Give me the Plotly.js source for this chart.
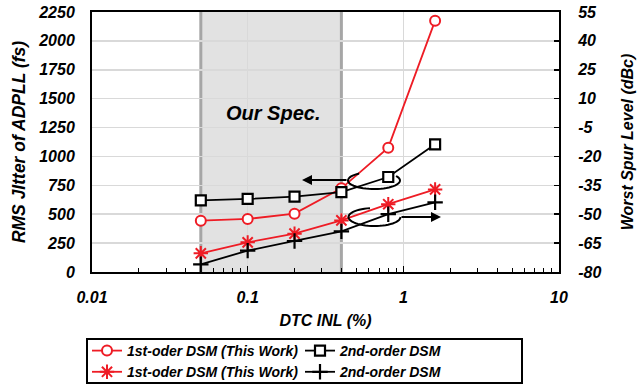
<!DOCTYPE html>
<html>
<head>
<meta charset="utf-8">
<script src="https://cdn.plot.ly/plotly-3.0.1.min.js"></script>
<style>html,body{margin:0;padding:0;background:#fff;}#chart{width:642px;height:388px;}</style>
</head>
<body>
<div id="chart"></div>
<script>
// ---- data ----
const dtcInl = [0.05, 0.1, 0.2, 0.4, 0.8, 1.6];
const jitterFirstOrder = [444, 459, 505, 724, 1076, 2175];     // fs, left axis
const jitterSecondOrder = [620, 632, 652, 692, 822, 1105];     // fs, left axis
const spurFirstOrder = [-70.3, -64.6, -60.1, -53.2, -44.8, -37.1];  // dBc, right axis
const spurSecondOrder = [-76.0, -68.9, -63.9, -58.9, -50.0, -43.8]; // dBc, right axis
const seriesNames = ['1st-oder DSM (This Work)', '2nd-order DSM', '1st-oder DSM (This Work)', '2nd-order DSM'];
const specRange = [0.05, 0.4];
const leftTicks = [0, 250, 500, 750, 1000, 1250, 1500, 1750, 2000, 2250];
const rightTicks = [-80, -65, -50, -35, -20, -5, 10, 25, 40, 55];
const rightTickText = ['-80', '-65', '-50', '-35', '-20', '-5', '10', '25', '40', '55'];
const xTicks = [0.01, 0.1, 1, 10];
const xTickText = ['0.01', '0.1', '1', '10'];

const RED = '#ee1c25';
const FONT = 'Liberation Sans, Arial, sans-serif';

// plot-area pixel geometry (for decorations only)
const PL = 92, PR = 559, PT = 12, PB = 272;
const px2x = p => (p - PL) / (PR - PL);
const py2y = p => (PB - p) / (PB - PT);
function arcPath(cx, cy, rx, ry, a0, a1) {
  let d = '';
  const n = 40;
  for (let i = 0; i <= n; i++) {
    const a = (a0 + (a1 - a0) * i / n) * Math.PI / 180;
    const x = px2x(cx + rx * Math.cos(a));
    const y = py2y(cy - ry * Math.sin(a));
    d += (i === 0 ? 'M' : 'L') + x.toFixed(4) + ',' + y.toFixed(4) + ' ';
  }
  return d;
}

const traces = [
  {x: dtcInl, y: jitterFirstOrder, name: seriesNames[0], yaxis: 'y', mode: 'lines+markers',
   line: {color: RED, width: 1.8},
   marker: {symbol: 'circle', size: 10, color: '#fff', line: {color: RED, width: 2}}},
  {x: dtcInl, y: jitterSecondOrder, name: seriesNames[1], yaxis: 'y', mode: 'lines+markers',
   line: {color: '#000', width: 1.8},
   marker: {symbol: 'square', size: 10, color: '#fff', line: {color: '#000', width: 2.2}}},
  {x: dtcInl, y: spurFirstOrder, name: seriesNames[2], yaxis: 'y2', mode: 'lines+markers',
   line: {color: RED, width: 1.8},
   marker: {symbol: 'asterisk-open', size: 12, color: RED, line: {color: RED, width: 2}}},
  {x: dtcInl, y: spurSecondOrder, name: seriesNames[3], yaxis: 'y2', mode: 'lines+markers',
   line: {color: '#000', width: 1.8},
   marker: {symbol: 'cross-thin-open', size: 11, color: '#000', line: {color: '#000', width: 2.2}}}
];

const tickFont = {family: FONT, size: 16, color: '#000', weight: 'bold', style: 'italic'};
const titleFont = {family: FONT, size: 17, color: '#000', weight: 'bold', style: 'italic'};

const layout = {
  width: 642, height: 388,
  margin: {l: PL, r: 642 - PR, t: PT, b: 388 - PB, autoexpand: false},
  paper_bgcolor: '#fff', plot_bgcolor: '#fff',
  showlegend: true,
  xaxis: {
    type: 'log', range: [Math.log10(xTicks[0]), Math.log10(xTicks[xTicks.length - 1])],
    tickvals: xTicks, ticktext: xTickText, tickfont: tickFont,
    ticks: 'inside', ticklen: 6, tickwidth: 1, tickcolor: '#000',
    minor: {ticks: 'inside', ticklen: 4, tickcolor: '#000', dtick: 'D1', showgrid: false},
    showgrid: true, gridcolor: '#d9d9d9', gridwidth: 1.5,
    showline: true, linecolor: '#000', linewidth: 2, mirror: true,
    zeroline: false, ticklabelstandoff: 10,
    title: {text: 'DTC INL (%)', font: {...titleFont, size: 16}, standoff: 10}
  },
  yaxis: {
    range: [leftTicks[0], leftTicks[leftTicks.length - 1]], tickvals: leftTicks, tickfont: tickFont,
    ticks: '', showgrid: true, gridcolor: '#d9d9d9', gridwidth: 1.5,
    showline: true, linecolor: '#000', linewidth: 2, zeroline: false,
    ticklabelstandoff: 12,
    title: {text: 'RMS JItter of ADPLL (fs)', font: {...titleFont, size: 17.5}, standoff: 8}
  },
  yaxis2: {
    overlaying: 'y', side: 'right',
    range: [rightTicks[0], rightTicks[rightTicks.length - 1]], tickvals: rightTicks, ticktext: rightTickText,
    tickfont: tickFont,
    ticks: 'inside', ticklen: 5, tickcolor: '#000', tickwidth: 1.5,
    showgrid: false, showline: true, linecolor: '#000', linewidth: 2, zeroline: false,
    ticklabelstandoff: 14,
    title: {text: 'Worst Spur Level (dBc)', font: {...titleFont, size: 16}, standoff: 20}
  },
  legend: {
    orientation: 'h', x: px2x(87), xanchor: 'left', y: py2y(335), yanchor: 'top',
    entrywidth: 168, entrywidthmode: 'pixels',
    bgcolor: 'rgba(0,0,0,0)', borderwidth: 0,
    font: {family: FONT, size: 14, color: '#000', weight: 'bold', style: 'italic'},
    tracegroupgap: 0
  },
  shapes: [
    {type: 'rect', xref: 'x', yref: 'paper', x0: specRange[0], x1: specRange[1], y0: 0, y1: 1,
     fillcolor: '#e2e2e2', line: {width: 0}, layer: 'below'},
    {type: 'line', xref: 'x', yref: 'paper', x0: specRange[0], x1: specRange[0], y0: 0, y1: 1,
     line: {color: '#a6a6a6', width: 3}, layer: 'below'},
    {type: 'line', xref: 'x', yref: 'paper', x0: specRange[1], x1: specRange[1], y0: 0, y1: 1,
     line: {color: '#a6a6a6', width: 3}, layer: 'below'},
    {type: 'path', xref: 'paper', yref: 'paper', path: arcPath(374, 180.5, 26, 8.5, 125, 392),
     line: {color: '#000', width: 2}},
    {type: 'path', xref: 'paper', yref: 'paper', path: arcPath(374.5, 217, 26, 9, 100, 360),
     line: {color: '#000', width: 2}},
    // legend frame
    {type: 'rect', xref: 'paper', yref: 'paper', x0: px2x(87), x1: px2x(522), y0: py2y(383), y1: py2y(339),
     line: {color: '#000', width: 2}, fillcolor: 'rgba(0,0,0,0)'}
  ],
  annotations: [
    {xref: 'paper', yref: 'paper', x: px2x(273), y: py2y(113), text: 'Our Spec.', showarrow: false,
     font: {family: FONT, size: 20, color: '#000', weight: 'bold', style: 'italic'}},
    {xref: 'paper', yref: 'paper', x: px2x(302), y: py2y(180), text: '', showarrow: true,
     axref: 'pixel', ayref: 'pixel', ax: 46, ay: 0, arrowhead: 2, arrowsize: 1, arrowwidth: 2, arrowcolor: '#000'},
    {xref: 'paper', yref: 'paper', x: px2x(441), y: py2y(217), text: '', showarrow: true,
     axref: 'pixel', ayref: 'pixel', ax: -41, ay: 0, arrowhead: 2, arrowsize: 1, arrowwidth: 2, arrowcolor: '#000'}
  ]
};

Plotly.newPlot('chart', traces, layout, {displayModeBar: false, staticPlot: true});
</script>
</body>
</html>
